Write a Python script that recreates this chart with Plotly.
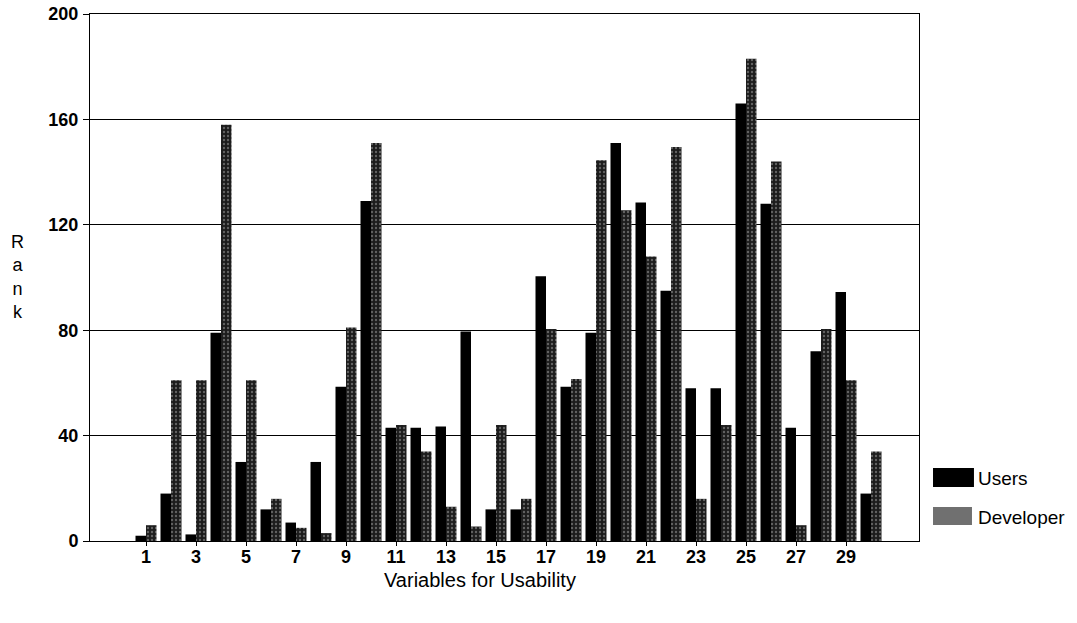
import plotly.graph_objects as go

categories = list(range(1, 31))
users = [2, 18, 2.5, 79, 30, 12, 7, 30, 58.5, 129,
         43, 43, 43.5, 79.5, 12, 12, 100.5, 58.5, 79, 151,
         128.5, 95, 58, 58, 166, 128, 43, 72, 94.5, 18]
developer = [6, 61, 61, 158, 61, 16, 5, 3, 81, 151,
             44, 34, 13, 5.5, 44, 16, 80.5, 61.5, 144.5, 125.5,
             108, 149.5, 16, 44, 183, 144, 6, 80.5, 61, 34]
x_ticks = list(range(1, 30, 2))
y_ticks = [0, 40, 80, 120, 160, 200]

FONT = "Liberation Sans, Arial, sans-serif"

fig = go.Figure()
fig.add_trace(go.Bar(x=categories, y=users, name="Users",
                     marker=dict(color="#000000", line=dict(width=0))))
fig.add_trace(go.Bar(x=categories, y=developer, name="Developer",
                     marker=dict(color="#2a2a2a", line=dict(width=0),
                                 pattern=dict(shape=".", bgcolor="#1c1c1c",
                                              fgcolor="#a8a8a8", size=4,
                                              solidity=0.28))))

fig.update_layout(
    width=1077, height=623,
    margin=dict(l=90, r=158, t=14, b=82),
    paper_bgcolor="white", plot_bgcolor="white",
    barmode="group", bargap=0.16, bargroupgap=0,
    showlegend=False,
    font=dict(family=FONT, color="black"),
)
fig.update_xaxes(
    range=[-1.24, 31.92], tickmode="array", tickvals=x_ticks,
    ticktext=[str(v) for v in x_ticks],
    ticks="outside", ticklen=4, tickcolor="black",
    tickfont=dict(size=18, family=FONT, weight="bold"),
    ticklabelstandoff=-5,
    showline=True, linecolor="black", linewidth=1, mirror=True,
    showgrid=False, zeroline=False, automargin=False,
)
fig.update_yaxes(
    range=[0, 200], tickmode="array", tickvals=y_ticks,
    ticks="outside", ticklen=6, tickcolor="black",
    tickfont=dict(size=18, family=FONT, weight="bold"),
    ticklabelstandoff=1,
    showline=True, linecolor="black", linewidth=1, mirror=True,
    showgrid=True, gridcolor="black", gridwidth=1, zeroline=False,
    automargin=False,
)

# axis titles
fig.add_annotation(text="Variables for Usability", xref="paper", yref="paper",
                   x=0.4704, y=-0.074, xanchor="center", yanchor="middle",
                   showarrow=False, font=dict(size=20, family=FONT))
fig.add_annotation(text="R<br>a<br>n<br>k", xref="paper", yref="paper",
                   x=-0.088, y=0.501, xanchor="center", yanchor="middle",
                   showarrow=False, font=dict(size=18, family=FONT))

# legend (custom)
fig.add_shape(type="rect", xref="paper", yref="paper",
              x0=1.0169, x1=1.0663, y0=0.1025, y1=0.1385,
              fillcolor="black", line=dict(width=0))
fig.add_shape(type="rect", xref="paper", yref="paper",
              x0=1.0169, x1=1.0639, y0=0.0304, y1=0.0645,
              fillcolor="#707070", line=dict(width=0))
fig.add_annotation(text="Users", xref="paper", yref="paper",
                   x=1.0688, y=0.1195, xanchor="left", yanchor="middle",
                   showarrow=False, font=dict(size=19, family=FONT))
fig.add_annotation(text="Developer", xref="paper", yref="paper",
                   x=1.0688, y=0.0455, xanchor="left", yanchor="middle",
                   showarrow=False, font=dict(size=19, family=FONT))

fig.write_html("out.html", config={"displayModeBar": False},
               post_script="document.body.style.margin='0px';")
